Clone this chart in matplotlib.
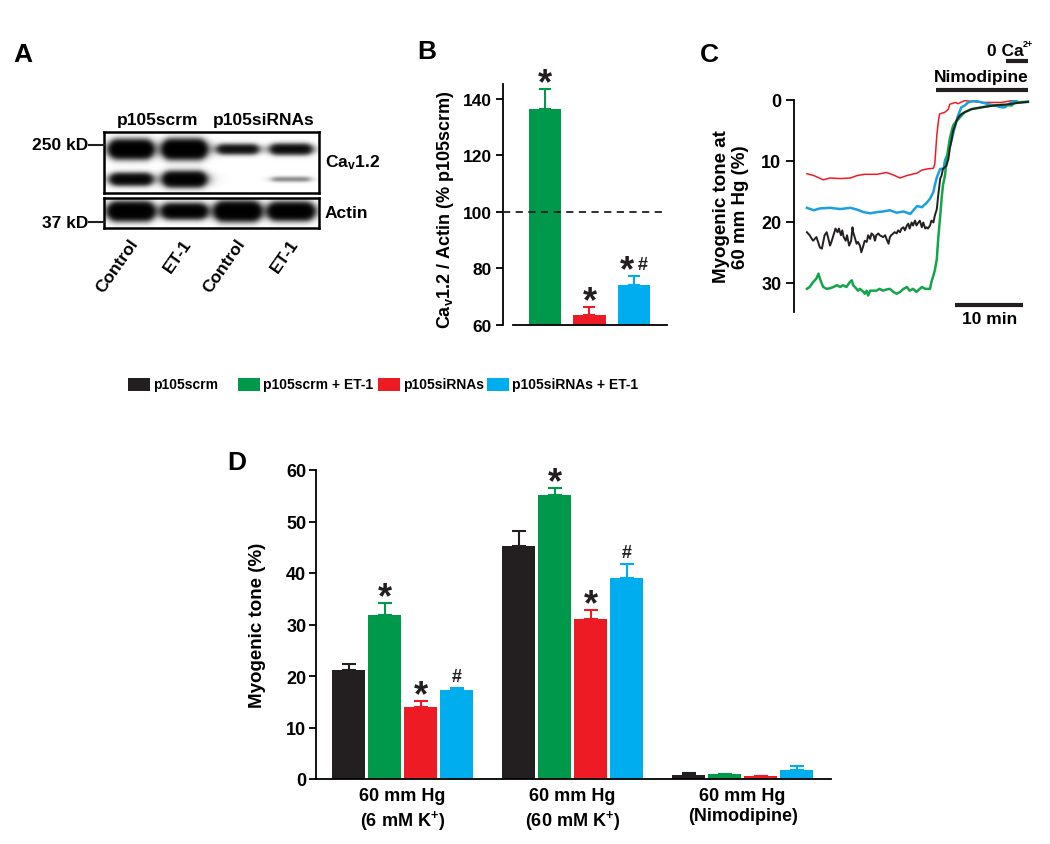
import matplotlib
matplotlib.use("Agg")
import matplotlib.pyplot as plt
from matplotlib.patches import Rectangle
from matplotlib.lines import Line2D
import numpy as np

plt.rcParams['font.family'] = ['Liberation Sans', 'DejaVu Sans']
plt.rcParams['font.weight'] = 'bold'
plt.rcParams['mathtext.fontset'] = 'custom'
plt.rcParams['mathtext.rm'] = 'Liberation Sans:bold'
plt.rcParams['mathtext.bf'] = 'Liberation Sans:bold'
plt.rcParams['mathtext.it'] = 'Liberation Sans:bold'
plt.rcParams['axes.linewidth'] = 1.3

W, H = 1050, 845

groups = ["p105scrm", "p105scrm + ET-1", "p105siRNAs", "p105siRNAs + ET-1"]
colors = ["#231f20", "#00984a", "#ed1c24", "#00aeef"]

# A: western blot band strengths (relative)
blot_groups = ["p105scrm", "p105siRNAs"]
lane_labels = ["Control", "ET-1", "Control", "ET-1"]
cav_upper = [1.0, 1.05, 0.45, 0.5]
cav_lower = [0.6, 0.8, 0.0, 0.1]
actin = [1.0, 0.8, 1.05, 0.95]

# B: CaV1.2 / actin
b_mean = [136.5, 63.6, 74.3]
b_err = [7.0, 2.9, 3.2]

# C: myogenic tone traces (min, %)
t_red = [0.0, 1.0, 2.4, 3.4, 4.9, 6.4, 7.4, 8.4, 10.3, 11.7, 12.7, 13.7, 14.7, 16.2, 16.9, 17.8,
         18.6, 18.8, 19.1, 19.3, 19.5, 20.3, 20.8, 21.0, 21.8, 22.2, 23.2, 24.7, 25.7, 27.2, 28.6,
         30.1, 31.2, 32.5]
tone_red = [12.1, 12.4, 13.1, 12.8, 12.9, 12.8, 12.4, 12.2, 12.2, 11.9, 12.3, 12.8, 12.4, 12.0, 11.5, 11.3,
            11.2, 10.5, 5.8, 3.7, 2.3, 2.0, 1.5, 0.7, 0.4, 0.6, 0.1, 0.3, 0.4, 0.4, 0.4,
            0.1, 0.3, 0.3]
t_blue = [0.0, 1.0, 1.9, 3.4, 4.9, 6.4, 7.4, 8.3, 9.3, 10.3, 11.2, 12.2, 13.2, 14.2, 15.2, 16.2,
          16.9, 17.5, 18.1, 18.6, 18.8, 19.1, 19.6, 20.1, 20.3, 20.8, 21.3, 21.8, 22.2, 22.7, 23.2,
          23.7, 24.7, 25.7, 26.7, 27.6, 28.6, 29.1, 29.6, 30.6, 31.1, 32.5]
tone_blue = [17.7, 18.1, 17.8, 17.7, 17.9, 17.7, 18.0, 18.4, 18.6, 18.4, 18.3, 18.1, 18.5, 18.3, 18.7, 17.4,
             17.6, 17.0, 16.2, 15.1, 14.0, 12.7, 11.3, 11.3, 9.9, 8.6, 6.4, 4.2, 2.6, 1.2, 0.9,
             0.4, 0.1, 0.4, 0.7, 0.9, 1.2, 1.2, 0.7, 0.0, 0.4, 0.3]
t_black = [0.0, 0.4, 0.9, 1.4, 1.9, 2.2, 2.4, 2.6, 2.9, 3.1, 3.4, 3.6, 3.9, 4.2, 4.5, 4.7, 5.0, 5.2,
           5.4, 5.7, 5.9, 6.2, 6.5, 6.7, 6.8, 7.1, 7.3, 7.5, 7.8, 8.0, 8.3, 8.5, 8.8, 9.0, 9.3, 9.5,
           9.8, 10.0, 10.2, 10.5, 10.7, 11.2, 11.5, 11.7, 12.0, 12.2, 12.4, 12.7, 12.9, 13.2, 13.4,
           13.7, 13.9, 14.2, 14.4, 14.7, 14.9, 15.1, 15.4, 15.6, 15.9, 16.1, 16.4, 16.6, 16.9, 17.1,
           17.4, 17.6, 17.8, 18.1, 18.3, 18.6, 18.8, 19.1, 19.3, 19.6, 19.8, 20.0, 20.5, 20.8, 21.0,
           21.3, 21.5, 21.8, 22.0, 22.3, 22.7, 23.2, 24.2, 25.7, 27.6, 29.6, 31.6, 32.5]
tone_black = [21.7, 22.2, 23.1, 22.5, 24.2, 24.4, 23.3, 22.2, 21.7, 22.5, 23.9, 23.3, 22.2, 21.1, 21.7, 21.1, 22.2, 21.4,
              22.5, 23.1, 22.2, 23.9, 23.1, 20.9, 21.7, 22.8, 23.6, 23.3, 23.9, 25.0, 23.9, 23.1, 23.3, 22.2, 22.8, 21.9,
              22.2, 23.1, 22.2, 21.9, 22.2, 22.5, 22.2, 22.8, 23.6, 22.5, 22.2, 21.9, 21.7, 21.9, 21.4,
              21.7, 21.1, 20.9, 21.4, 20.6, 20.3, 21.1, 20.1, 20.6, 19.8, 20.6, 20.1, 19.8, 20.9, 20.1,
              21.1, 20.9, 21.1, 20.6, 19.8, 20.1, 19.0, 17.9, 15.7, 12.9, 12.4, 11.3, 10.8, 9.7, 8.0,
              6.4, 5.0, 4.2, 3.4, 2.8, 2.3, 2.0, 1.5, 1.2, 0.9, 0.7, 0.4, 0.3]
t_green = [0.0, 0.4, 0.9, 1.4, 1.7, 1.9, 2.2, 2.4, 2.9, 3.4, 3.9, 4.4, 4.9, 5.3, 5.8, 6.3, 6.6, 6.8,
           7.3, 7.5, 7.8, 8.3, 8.5, 8.8, 9.0, 9.3, 9.8, 10.2, 10.7, 11.2, 11.7, 12.2, 12.7, 13.2, 13.7,
           14.2, 14.7, 15.1, 15.6, 16.1, 16.6, 16.9, 17.4, 18.1, 18.3, 18.6, 18.8, 19.1, 19.3, 19.6,
           19.8, 20.0, 20.3, 20.5, 20.8, 21.0, 21.3, 21.5, 21.8, 22.3, 22.7, 23.2, 24.2, 25.7, 27.2,
           28.6, 30.1, 30.6, 32.5]
tone_green = [31.0, 30.7, 29.9, 29.3, 28.5, 29.3, 30.2, 30.7, 31.0, 30.9, 30.7, 30.4, 30.7, 30.4, 30.7, 29.9, 29.6, 30.4,
              31.0, 31.3, 31.0, 31.5, 31.8, 31.3, 32.1, 31.3, 31.3, 31.3, 31.0, 31.3, 31.1, 31.0, 31.5, 31.8, 31.5,
              31.0, 30.7, 31.3, 31.0, 31.5, 31.0, 30.7, 31.0, 31.0, 29.9, 28.8, 28.0, 26.1, 22.8, 19.0,
              16.2, 14.0, 12.4, 10.2, 7.8, 6.4, 5.0, 4.2, 3.7, 3.1, 2.6, 2.0, 1.5, 1.2, 0.9,
              0.8, 0.9, 0.4, 0.3]

# D: myogenic tone (%), mean and SEM per condition
d_conditions = ["60 mm Hg\n(6 mM K$^{+}$)", "60 mm Hg\n(60 mM K$^{+}$)", "60 mm Hg\n(Nimodipine)"]
d_scrm = [21.2, 45.3, 0.8]
d_scrm_err = [1.1, 2.8, 0.4]
d_scrm_et1 = [31.9, 55.2, 0.9]
d_scrm_et1_err = [2.2, 1.4, 0.1]
d_sirna = [14.0, 31.1, 0.5]
d_sirna_err = [1.1, 1.8, 0.1]
d_sirna_et1 = [17.2, 39.0, 1.8]
d_sirna_et1_err = [0.5, 2.7, 0.7]
d_marks = [["", "", ""], ["*", "*", ""], ["*", "*", ""], ["#", "#", ""]]

fig = plt.figure(figsize=(W / 100, H / 100), dpi=100)


def ax_px(l, t, r, b):
    return fig.add_axes([l / W, 1 - b / H, (r - l) / W, (b - t) / H])


def ftext(x, y, s, **kw):
    return fig.text(x / W, 1 - y / H, s, **kw)


def fline(xs, ys, **kw):
    fig.add_artist(Line2D([x / W for x in xs], [1 - y / H for y in ys], color="#231f20", **kw))


def mark(ax, x, y, s, dx=0):
    if s == "*":
        ax.annotate(s, (x, y), xytext=(dx, -3), textcoords="offset points", ha="center",
                    va="baseline", fontsize=26, color="#231f20", annotation_clip=False)
    else:
        ax.annotate(s, (x, y), xytext=(dx, 5), textcoords="offset points", ha="center",
                    va="baseline", fontsize=13, color="#231f20", annotation_clip=False)


# panel letters
for letter, x, y in [("A", 13, 43), ("B", 417, 40), ("C", 700, 43), ("D", 227, 451)]:
    ftext(x, y, letter, fontsize=19, ha="left", va="top")

# ---- A: blot ----
lane_x = 131 + 53.3 * np.arange(4)


def band(xx, yy, xc, yc, s, hw):
    sig = 1.5 + 3.5 * s
    return 6 * s * np.exp(-0.5 * ((yy - yc) / sig) ** 2) / (1 + ((xx - xc) / hw) ** 8)


xx, yy = np.meshgrid(np.arange(104, 319, 0.5), np.arange(133, 194, 0.5))
dens = np.zeros_like(xx)
for i in range(4):
    dens += band(xx, yy, lane_x[i], 150, cav_upper[i], 19)
    dens += band(xx, yy, lane_x[i], 180, cav_lower[i], 19)
ax_a1 = ax_px(104, 133, 319, 194)
ax_a1.imshow(1 - np.exp(-dens), extent=(104, 319, 194, 133), cmap="gray_r", vmin=0, vmax=1,
             aspect="auto", interpolation="bilinear")

xx, yy = np.meshgrid(np.arange(104, 319, 0.5), np.arange(199, 229, 0.5))
dens = np.zeros_like(xx)
for i in range(4):
    dens += band(xx, yy, lane_x[i], 212, actin[i], 20)
ax_a2 = ax_px(104, 199, 319, 229)
ax_a2.imshow(1 - np.exp(-dens), extent=(104, 319, 229, 199), cmap="gray_r", vmin=0, vmax=1,
             aspect="auto", interpolation="bilinear")
for a in (ax_a1, ax_a2):
    a.set_xticks([])
    a.set_yticks([])
    for sp in a.spines.values():
        sp.set_linewidth(1.8)

ftext(158, 120, blot_groups[0], fontsize=12.5, ha="center", va="center")
ftext(264, 120, blot_groups[1], fontsize=12.5, ha="center", va="center")
ftext(325, 163, "Ca$_{\\mathregular{v}}$1.2", fontsize=12.5, ha="left", va="center")
ftext(325, 214, "Actin", fontsize=12.5, ha="left", va="center")
ftext(88, 146, "250 kD", fontsize=12.5, ha="right", va="center")
ftext(88, 223, "37 kD", fontsize=12.5, ha="right", va="center")
fline([89, 104], [146, 146], lw=1.5)
fline([89, 104], [223, 223], lw=1.5)
for i, lab in enumerate(lane_labels):
    ftext(lane_x[i] + 4, 241, lab, fontsize=12.5, ha="right", va="center", rotation=55,
          rotation_mode="anchor")

# ---- B ----
ax_b = ax_px(503, 85, 667, 326)
xb = np.arange(3)
ax_b.bar(xb, [m - 60 for m in b_mean], bottom=60, width=0.74, color=colors[1:], zorder=2)
for i in range(3):
    ax_b.errorbar(xb[i], b_mean[i], yerr=[[0], [b_err[i]]], color=colors[i + 1], capsize=4.5,
                  elinewidth=1.5, capthick=1.5, zorder=1)
ax_b.axhline(100, color="#231f20", lw=1.3, ls=(0, (4, 3)), xmax=0.97, zorder=3)
ax_b.set_xlim(-0.944, 2.742)
ax_b.set_ylim(60, 145.3)
ax_b.set_yticks([60, 80, 100, 120, 140])
ax_b.set_xticks([])
ax_b.spines["top"].set_visible(False)
ax_b.spines["right"].set_visible(False)
ax_b.spines["bottom"].set_bounds(-0.72, 2.742)
ax_b.tick_params(axis="y", length=5, width=1.3, pad=3, labelsize=12.5)
mark(ax_b, 0, b_mean[0] + b_err[0], "*")
mark(ax_b, 1, b_mean[1] + b_err[1], "*")
mark(ax_b, 2, b_mean[2] + b_err[2], "*", dx=-5)
mark(ax_b, 2, b_mean[2] + b_err[2], "#", dx=6)
ftext(445, 210, "Ca$_{\\mathregular{v}}$1.2 / Actin (% p105scrm)", fontsize=13, rotation=90,
      ha="center", va="center")

# ---- C ----
ax_c = ax_px(794, 101, 1030, 313)
ax_c.plot(t_red, tone_red, color="#ed1c24", lw=1.1)
ax_c.plot(t_blue, tone_blue, color="#1a9fe0", lw=1.8)
ax_c.plot(t_green, tone_green, color="#12a54a", lw=1.8)
ax_c.plot(t_black, tone_black, color="#231f20", lw=1.4)
ax_c.set_xlim(-1.9, 32.8)
ax_c.set_ylim(34.8, 0)
ax_c.set_yticks([0, 10, 20, 30])
ax_c.set_xticks([])
for s in ("top", "right", "bottom"):
    ax_c.spines[s].set_visible(False)
ax_c.tick_params(axis="y", length=6, width=1.3, pad=3, labelsize=13)
ax_c.plot([19.0, 32.5], [-1.64, -1.64], color="#231f20", lw=3, clip_on=False, solid_capstyle="butt")
ax_c.plot([29.3, 32.5], [-6.4, -6.4], color="#231f20", lw=3, clip_on=False, solid_capstyle="butt")
ax_c.plot([21.8, 31.8], [33.7, 33.7], color="#231f20", lw=3, clip_on=False, solid_capstyle="butt")
ax_c.text(25.7, -3.9, "Nimodipine", fontsize=12.5, ha="center", va="center")
ax_c.text(31.8, -8.2, "0 Ca", fontsize=12.5, ha="right", va="center")
ax_c.text(31.8, -9.3, "2+", fontsize=6.5, ha="left", va="center")
ax_c.text(26.8, 35.9, "10 min", fontsize=12.5, ha="center", va="center")
ftext(731, 207, "Myogenic tone at\n60 mm Hg (%)", fontsize=13.5, rotation=90, ha="center",
      va="center", linespacing=1.1)

# ---- legend (placed like the original key) ----
for k, x0 in enumerate([128, 238, 378, 487]):
    fig.add_artist(Rectangle((x0 / W, 1 - 392 / H), 22 / W, 13 / H, facecolor=colors[k],
                             edgecolor="none", transform=fig.transFigure))
    ftext(x0 + 25, 385.5, groups[k], fontsize=10, ha="left", va="center")

# ---- D ----
ax_d = ax_px(316, 471, 831, 780)
xd = np.arange(3)
series = [(d_scrm, d_scrm_err), (d_scrm_et1, d_scrm_et1_err), (d_sirna, d_sirna_err),
          (d_sirna_et1, d_sirna_et1_err)]
step = 36 / 170
for k, (vals, errs) in enumerate(series):
    pos = xd + (k - 1.5) * step
    ax_d.bar(pos, vals, width=33 / 170, color=colors[k], zorder=2)
    ax_d.errorbar(pos, vals, yerr=[[0] * 3, errs], fmt="none", ecolor=colors[k], capsize=5,
                  elinewidth=1.5, capthick=1.5, zorder=1)
    for j in range(3):
        if d_marks[k][j]:
            mark(ax_d, pos[j], vals[j] + errs[j], d_marks[k][j])
ax_d.set_xlim(-0.509, 2.52)
ax_d.set_ylim(0, 60)
ax_d.set_yticks(range(0, 61, 10))
ax_d.set_xticks(xd)
ax_d.set_xticklabels(d_conditions, fontsize=13)
ax_d.spines["top"].set_visible(False)
ax_d.spines["right"].set_visible(False)
ax_d.tick_params(axis="y", length=5, width=1.3, pad=2, labelsize=13)
ax_d.tick_params(axis="x", length=0, pad=6)
ftext(257, 625, "Myogenic tone (%)", fontsize=13.5, rotation=90, ha="center", va="center")

fig.savefig("out.png", dpi=100)
